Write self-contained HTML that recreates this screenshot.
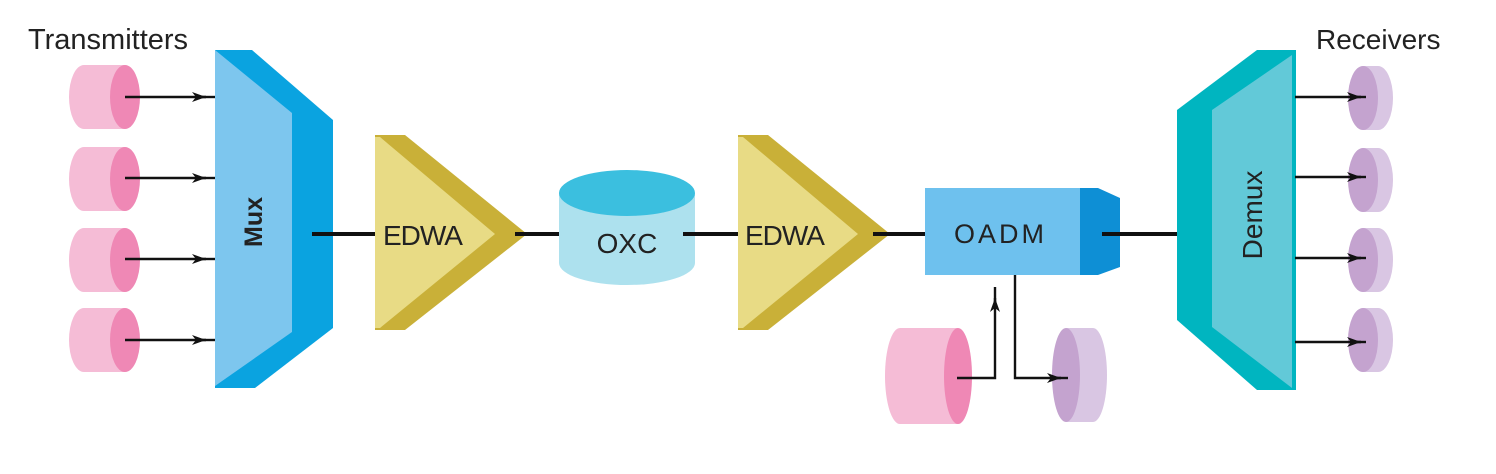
<!DOCTYPE html>
<html><head><meta charset="utf-8"><style>
html,body{margin:0;padding:0;background:#fff;}
svg{display:block;}
text{font-family:"Liberation Sans",sans-serif;fill:#222;}
</style></head><body>
<svg width="1496" height="474" viewBox="0 0 1496 474" xmlns="http://www.w3.org/2000/svg">
<defs>
<marker id="ah" viewBox="0 0 14 10" refX="14" refY="5" markerWidth="14" markerHeight="10" markerUnits="userSpaceOnUse" orient="auto">
<path d="M0,0 L14,5 L0,10 L4,5 Z" fill="#111"/>
</marker>
</defs>

<!-- Labels -->
<text x="28" y="49" font-size="29">Transmitters</text>
<text x="1316" y="49" font-size="28">Receivers</text>

<!-- Transmitters -->
<g>
 <g transform="translate(0,97)">
  <ellipse cx="84" cy="0" rx="15" ry="32" fill="#F5BCD6"/><rect x="84" y="-32" width="41" height="64" fill="#F5BCD6"/><ellipse cx="125" cy="0" rx="15" ry="32" fill="#EF88B5"/>
 </g>
 <g transform="translate(0,179)">
  <ellipse cx="84" cy="0" rx="15" ry="32" fill="#F5BCD6"/><rect x="84" y="-32" width="41" height="64" fill="#F5BCD6"/><ellipse cx="125" cy="0" rx="15" ry="32" fill="#EF88B5"/>
 </g>
 <g transform="translate(0,260)">
  <ellipse cx="84" cy="0" rx="15" ry="32" fill="#F5BCD6"/><rect x="84" y="-32" width="41" height="64" fill="#F5BCD6"/><ellipse cx="125" cy="0" rx="15" ry="32" fill="#EF88B5"/>
 </g>
 <g transform="translate(0,340)">
  <ellipse cx="84" cy="0" rx="15" ry="32" fill="#F5BCD6"/><rect x="84" y="-32" width="41" height="64" fill="#F5BCD6"/><ellipse cx="125" cy="0" rx="15" ry="32" fill="#EF88B5"/>
 </g>
</g>

<!-- Transmitter arrows -->
<g stroke="#111" stroke-width="2.4" fill="none">
 <line x1="125" y1="97" x2="206" y2="97" marker-end="url(#ah)"/><line x1="200" y1="97" x2="215" y2="97"/>
 <line x1="125" y1="178" x2="206" y2="178" marker-end="url(#ah)"/><line x1="200" y1="178" x2="215" y2="178"/>
 <line x1="125" y1="259" x2="206" y2="259" marker-end="url(#ah)"/><line x1="200" y1="259" x2="215" y2="259"/>
 <line x1="125" y1="340" x2="206" y2="340" marker-end="url(#ah)"/><line x1="200" y1="340" x2="215" y2="340"/>
</g>

<!-- Mux -->
<polygon points="215,50 252,50 333,120 333,328 255,388 215,388" fill="#0AA3E0"/>
<polygon points="215,50 292,113 292,332 215,386" fill="#7DC6EE"/>
<text x="0" y="0" font-size="25" font-weight="bold" text-anchor="middle" transform="translate(262,222) rotate(-90)">Mux</text>

<!-- Main line segments -->
<g stroke="#111" stroke-width="4">
 <line x1="312" y1="234" x2="376" y2="234"/>
 <line x1="515" y1="234" x2="560" y2="234"/>
 <line x1="680" y1="234" x2="739" y2="234"/>
 <line x1="873" y1="234" x2="925" y2="234"/>
 <line x1="1102" y1="234" x2="1196" y2="234"/>
</g>

<!-- EDWA 1 -->
<polygon points="375,135 405,135 527,234 405,330 375,330" fill="#C9B038"/>
<polygon points="375,137 380,137 495,234 380,328 375,328" fill="#E8DB85"/>
<line x1="515" y1="234" x2="530" y2="234" stroke="#111" stroke-width="4"/>
<text x="383" y="245" font-size="28" letter-spacing="-1">EDWA</text>

<!-- OXC -->
<g>
 <ellipse cx="627" cy="263" rx="68" ry="22" fill="#ADE1EE"/>
 <rect x="559" y="193" width="136" height="70" fill="#ADE1EE"/>
 <ellipse cx="627" cy="193" rx="68" ry="23" fill="#3BBFDF"/>
 <text x="627" y="253" font-size="28" text-anchor="middle">OXC</text>
</g>
<line x1="683" y1="234" x2="695" y2="234" stroke="#111" stroke-width="4"/>

<!-- EDWA 2 -->
<polygon points="738,135 768,135 890,234 768,330 738,330" fill="#C9B038"/>
<polygon points="738,137 743,137 858,234 743,328 738,328" fill="#E8DB85"/>
<line x1="873" y1="234" x2="892" y2="234" stroke="#111" stroke-width="4"/>
<text x="745" y="245" font-size="28" letter-spacing="-1">EDWA</text>

<!-- OADM -->
<polygon points="1080,188 1098,188 1120,198 1120,267 1098,275 1080,275" fill="#0E8FD5"/>
<rect x="925" y="188" width="155" height="87" fill="#6EC1EE"/>
<text x="954" y="243" font-size="27" letter-spacing="3">OADM</text>
<line x1="1102" y1="234" x2="1125" y2="234" stroke="#111" stroke-width="4"/>

<!-- Add transmitter (pink) -->
<ellipse cx="900" cy="376" rx="15" ry="48" fill="#F5BCD6"/>
<rect x="900" y="328" width="58" height="96" fill="#F5BCD6"/>
<ellipse cx="958" cy="376" rx="14" ry="48" fill="#EF88B5"/>

<!-- Drop receiver (purple) -->
<ellipse cx="1093" cy="375" rx="14" ry="47" fill="#D9C6E3"/>
<rect x="1066" y="328" width="27" height="94" fill="#D9C6E3"/>
<ellipse cx="1066" cy="375" rx="14" ry="47" fill="#C4A3CF"/>

<!-- Add/drop arrows -->
<g stroke="#111" stroke-width="2.4" fill="none">
 <polyline points="957,378 995,378 995,298" marker-end="url(#ah)"/>
 <line x1="995" y1="305" x2="995" y2="287"/>
 <polyline points="1015,275 1015,378 1061,378" marker-end="url(#ah)"/>
 <line x1="1055" y1="378" x2="1068" y2="378"/>
</g>

<!-- Demux -->
<polygon points="1177,110 1257,50 1296,50 1296,390 1257,390 1177,320" fill="#00B5C0"/>
<polygon points="1212,110 1292,55 1292,388 1212,327" fill="#62C9D8"/>
<text x="0" y="0" font-size="28" text-anchor="middle" transform="translate(1262,215) rotate(-90)">Demux</text>

<!-- Receivers -->
<g>
 <g transform="translate(0,98)">
  <ellipse cx="1378" cy="0" rx="15" ry="32" fill="#D9C6E3"/><rect x="1363" y="-32" width="15" height="64" fill="#D9C6E3"/><ellipse cx="1363" cy="0" rx="15" ry="32" fill="#C4A3CF"/>
 </g>
 <g transform="translate(0,180)">
  <ellipse cx="1378" cy="0" rx="15" ry="32" fill="#D9C6E3"/><rect x="1363" y="-32" width="15" height="64" fill="#D9C6E3"/><ellipse cx="1363" cy="0" rx="15" ry="32" fill="#C4A3CF"/>
 </g>
 <g transform="translate(0,260)">
  <ellipse cx="1378" cy="0" rx="15" ry="32" fill="#D9C6E3"/><rect x="1363" y="-32" width="15" height="64" fill="#D9C6E3"/><ellipse cx="1363" cy="0" rx="15" ry="32" fill="#C4A3CF"/>
 </g>
 <g transform="translate(0,340)">
  <ellipse cx="1378" cy="0" rx="15" ry="32" fill="#D9C6E3"/><rect x="1363" y="-32" width="15" height="64" fill="#D9C6E3"/><ellipse cx="1363" cy="0" rx="15" ry="32" fill="#C4A3CF"/>
 </g>
</g>
<g stroke="#111" stroke-width="2.4" fill="none">
 <line x1="1295" y1="97" x2="1361" y2="97" marker-end="url(#ah)"/><line x1="1355" y1="97" x2="1366" y2="97"/>
 <line x1="1295" y1="177" x2="1361" y2="177" marker-end="url(#ah)"/><line x1="1355" y1="177" x2="1366" y2="177"/>
 <line x1="1295" y1="258" x2="1361" y2="258" marker-end="url(#ah)"/><line x1="1355" y1="258" x2="1366" y2="258"/>
 <line x1="1295" y1="342" x2="1361" y2="342" marker-end="url(#ah)"/><line x1="1355" y1="342" x2="1366" y2="342"/>
</g>
</svg>
</body></html>
